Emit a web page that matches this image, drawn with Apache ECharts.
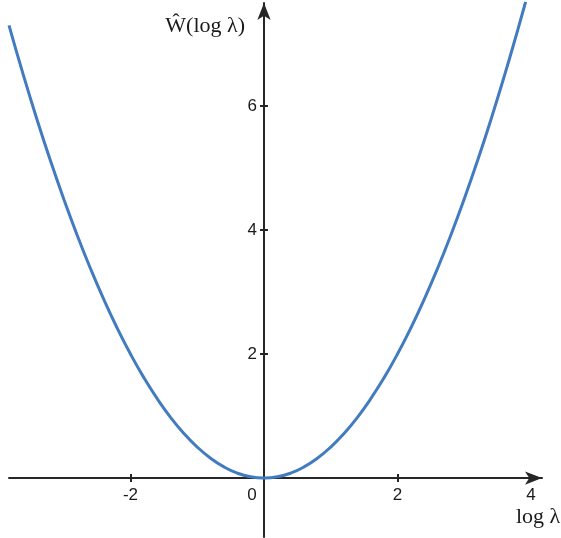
<!DOCTYPE html>
<html>
<head>
<meta charset="utf-8">
<script src="https://cdn.jsdelivr.net/npm/echarts@6/dist/echarts.min.js"></script>
<style>
  html, body { margin: 0; padding: 0; background: #fff; }
  #chart { width: 561px; height: 538px; }
</style>
</head>
<body>
<div id="chart"></div>
<script>
// curve
const logLambda = [-3.82, -3.6, -3.4, -3.2, -3.0, -2.8, -2.6, -2.4, -2.2, -2.0,
  -1.8, -1.6, -1.4, -1.2, -1.0, -0.8, -0.6, -0.4, -0.2, 0,
  0.2, 0.4, 0.6, 0.8, 1.0, 1.2, 1.4, 1.6, 1.8, 2.0,
  2.2, 2.4, 2.6, 2.8, 3.0, 3.2, 3.4, 3.6, 3.8, 3.92];
const wHat = [7.30, 6.48, 5.78, 5.12, 4.50, 3.92, 3.38, 2.88, 2.42, 2.00,
  1.62, 1.28, 0.98, 0.72, 0.50, 0.32, 0.18, 0.08, 0.02, 0,
  0.02, 0.08, 0.18, 0.32, 0.50, 0.72, 0.98, 1.28, 1.62, 2.00,
  2.42, 2.88, 3.38, 3.92, 4.50, 5.12, 5.78, 6.48, 7.22, 7.68];

const xLabels = [-2, 0, 2, 4];
const xTicks = [-2, 2, 4];
const yTicks = [2, 4, 6];

const xMin = -3.82, xMax = 4.165;
const yMin = -0.95, yMax = 7.66;

const chart = echarts.init(document.getElementById('chart'), null, { renderer: 'canvas' });

const axisColor = '#262626';
const labelFont = { color: '#1a1a1a', fontSize: 17, fontFamily: 'Liberation Sans, Arial, sans-serif' };
const nameFont = { color: '#1a1a1a', fontSize: 22, fontFamily: 'Liberation Serif, serif' };
const tickStyle = { color: axisColor, width: 2 };

// grid box in pixels; axes are moved onto the zero lines with offset
const gridBox = { left: 9, right: 19, top: 3, bottom: 1 };
const plotW = 561 - gridBox.left - gridBox.right;
const plotH = 538 - gridBox.top - gridBox.bottom;
const xAxisOffset = -plotH * (0 - yMin) / (yMax - yMin);
const yAxisOffset = -plotW * (0 - xMin) / (xMax - xMin);

chart.setOption({
  animation: false,
  backgroundColor: '#fff',
  grid: { ...gridBox, outerBoundsMode: 'none', containLabel: false },
  xAxis: [
    {
      type: 'value', min: xMin, max: xMax, position: 'bottom', offset: xAxisOffset,
      splitLine: { show: false },
      axisLine: {
        onZero: false,
        symbol: ['none', 'arrow'],
        symbolSize: [10, 17],
        lineStyle: { color: axisColor, width: 2 }
      },
      axisTick: { customValues: xTicks, length: 4, lineStyle: tickStyle },
      axisLabel: {
        customValues: xLabels,
        margin: 9,
        ...labelFont,
        formatter: v => (v === 0 ? '{z|0}' : String(v)),
        rich: { z: { ...labelFont, padding: [0, 24, 0, 0] } }
      },
      name: 'log λ',
      nameLocation: 'end',
      nameGap: -26,
      nameTextStyle: { ...nameFont, align: 'left', verticalAlign: 'top', padding: [28, 0, 0, 0] }
    },
    {
      type: 'value', min: xMin, max: xMax, position: 'bottom', offset: xAxisOffset,
      splitLine: { show: false },
      axisLine: { show: false, onZero: false },
      axisTick: { customValues: xTicks, inside: true, length: 4, lineStyle: tickStyle },
      axisLabel: { show: false }
    }
  ],
  yAxis: [
    {
      type: 'value', min: yMin, max: yMax, position: 'left', offset: yAxisOffset,
      splitLine: { show: false },
      axisLine: {
        onZero: false,
        symbol: ['none', 'arrow'],
        symbolSize: [10, 17],
        lineStyle: { color: axisColor, width: 2 }
      },
      axisTick: { customValues: yTicks, length: 4, lineStyle: tickStyle },
      axisLabel: { customValues: yTicks, margin: 7, ...labelFont },
      name: 'Ŵ(log λ)',
      nameLocation: 'end',
      nameGap: -23,
      nameTextStyle: { ...nameFont, align: 'right', verticalAlign: 'middle', padding: [0, 19, 0, 0] }
    },
    {
      type: 'value', min: yMin, max: yMax, position: 'left', offset: yAxisOffset,
      splitLine: { show: false },
      axisLine: { show: false, onZero: false },
      axisTick: { customValues: yTicks, inside: true, length: 4, lineStyle: tickStyle },
      axisLabel: { show: false }
    }
  ],
  series: [
    {
      type: 'line',
      data: logLambda.map((x, i) => [x, wHat[i]]),
      smooth: true,
      showSymbol: false,
      clip: true,
      lineStyle: { color: '#427bbf', width: 3 }
    }
  ]
});
</script>
</body>
</html>
